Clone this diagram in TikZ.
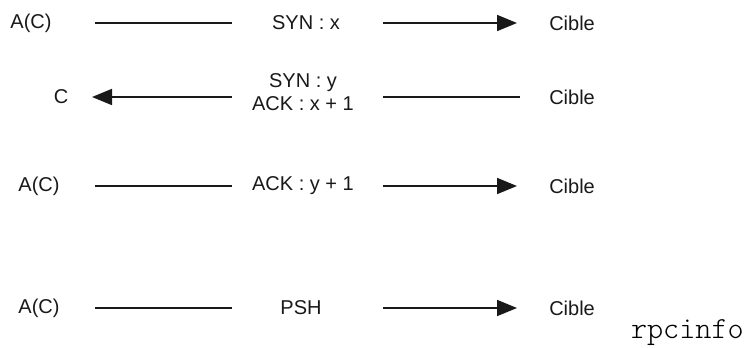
\documentclass[tikz,border=0pt]{standalone}
\usepackage{fontspec}
\setmainfont{Liberation Sans}
\newfontfamily\rpfont{Latin Modern Mono Light}
\usetikzlibrary{arrows.meta}
\tikzset{
  lbl/.style={inner sep=0pt, font=\fontsize{15}{18}\selectfont, text=black!90},
  seg/.style={line width=1.3pt, black!90},
  arr/.style={seg, -{Triangle[length=15pt,width=12pt]}},
}
\begin{document}
\begin{tikzpicture}[x=0.75pt,y=-0.75pt]
\useasboundingbox (0,0) rectangle (745,347);
% Row 1
\node[lbl] (s1) at (31,23) {A(C)};
\node[lbl] (m1) at (306,23) {SYN : x};
\node[lbl,anchor=west] (t1) at (549,23) {Cible};
\coordinate (a1) at (95,23); \coordinate (b1) at (232,23);
\coordinate (c1) at (383,23); \coordinate (d1) at (517,23);
\draw[seg] (a1) -- (b1);
\draw[arr] (c1) -- (d1);
% Row 2
\node[lbl] (s2) at (61,97) {C};
\node[lbl,align=center] (m2) at (303,92) {SYN : y\\[-1pt]ACK : x + 1};
\node[lbl,anchor=west] (t2) at (549,97) {Cible};
\coordinate (a2) at (92,97); \coordinate (b2) at (232,97);
\coordinate (c2) at (383,97); \coordinate (d2) at (520,97);
\draw[arr] (b2) -- (a2);
\draw[seg] (c2) -- (d2);
% Row 3
\node[lbl] (s3) at (39,186) {A(C)};
\node[lbl] (m3) at (303,186) {ACK : y + 1};
\node[lbl,anchor=west] (t3) at (549,186) {Cible};
\coordinate (a3) at (95,186); \coordinate (b3) at (232,186);
\coordinate (c3) at (383,186); \coordinate (d3) at (517,186);
\draw[seg] (a3) -- (b3);
\draw[arr] (c3) -- (d3);
% Row 4
\node[lbl] (s4) at (39,308) {A(C)};
\node[lbl] (m4) at (301,308) {PSH};
\node[lbl,anchor=west] (t4) at (549,308) {Cible};
\coordinate (a4) at (95,308); \coordinate (b4) at (232,308);
\coordinate (c4) at (383,308); \coordinate (d4) at (517,308);
\draw[seg] (a4) -- (b4);
\draw[arr] (c4) -- (d4);
% footer
\node[inner sep=0pt,anchor=east,font=\rpfont\fontsize{23}{26}\selectfont] (rp) at (744,333) {rpcinfo};
\end{tikzpicture}
\end{document}
